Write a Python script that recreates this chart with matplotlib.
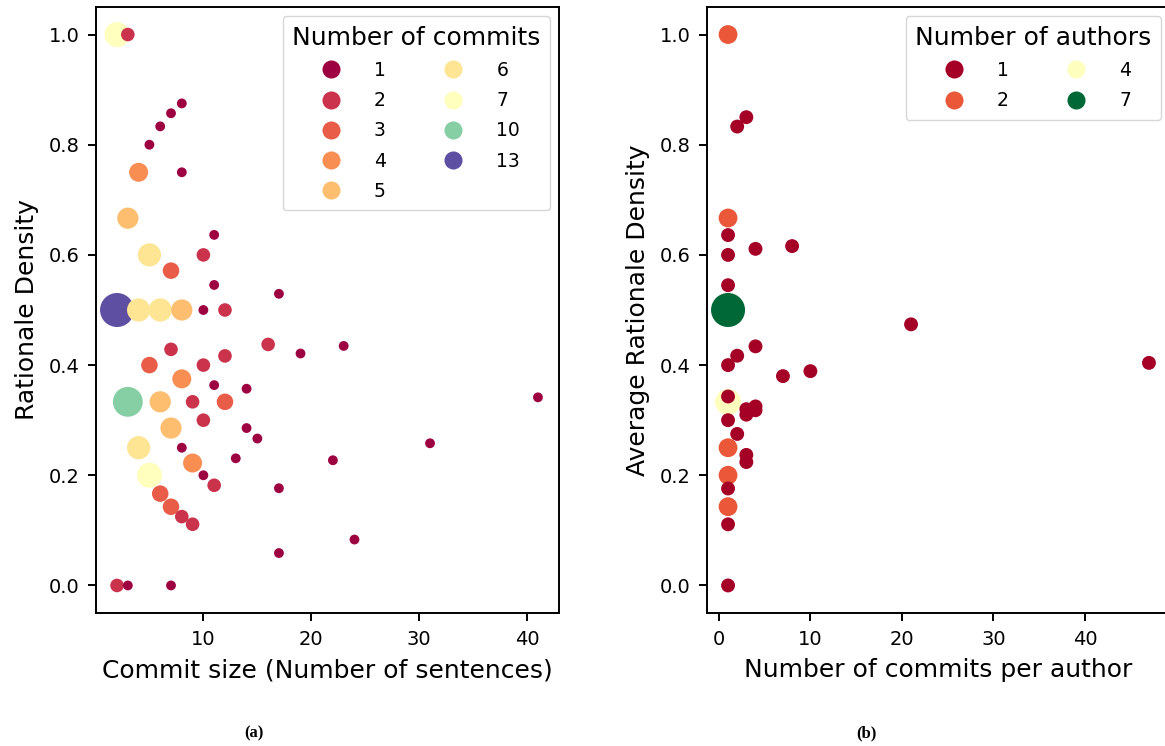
import matplotlib.pyplot as plt
from matplotlib.lines import Line2D

# (a) commit size vs rationale density, colour/size = number of commits
sentences = [2, 3, 8, 7, 6, 5, 4, 8, 3, 11, 5, 10, 7, 11, 17, 2, 4, 6, 8, 10, 12,
             7, 16, 19, 23, 5, 10, 12, 8, 11, 14, 41, 3, 6, 9, 12, 10, 7, 14, 15,
             31, 4, 8, 13, 9, 22, 5, 10, 11, 17, 6, 7, 8, 9, 24, 17, 2, 3, 7]
density = [1.0, 1.0, 7/8, 6/7, 5/6, 4/5, 0.75, 0.75, 2/3, 7/11, 0.6, 0.6, 4/7,
           6/11, 9/17, 0.5, 0.5, 0.5, 0.5, 0.5, 0.5, 3/7, 7/16, 8/19, 10/23,
           0.4, 0.4, 5/12, 3/8, 4/11, 5/14, 14/41, 1/3, 1/3, 1/3, 1/3, 0.3,
           2/7, 2/7, 4/15, 8/31, 0.25, 0.25, 3/13, 2/9, 5/22, 0.2, 0.2, 2/11,
           3/17, 1/6, 1/7, 1/8, 1/9, 2/24, 1/17, 0.0, 0.0, 0.0]
n_commits = [7, 2, 1, 1, 1, 1, 4, 1, 5, 1, 6, 2, 3, 1, 1, 13, 6, 6, 5, 1, 2,
             2, 2, 1, 1, 3, 2, 2, 4, 1, 1, 1, 10, 5, 2, 3, 2, 5, 1, 1,
             1, 6, 1, 1, 4, 1, 7, 1, 2, 1, 3, 3, 2, 2, 1, 1, 2, 1, 1]
commit_levels = [1, 2, 3, 4, 5, 6, 7, 10, 13]

# (b) commits per author vs average rationale density, colour/size = number of authors
commits_per_author = [1, 3, 2, 1, 1, 1, 4, 8, 1, 1, 21, 4, 2, 1, 47, 10, 7, 1,
                      1, 3, 4, 3, 4, 1, 2, 1, 3, 3, 1, 1, 1, 1, 1]
avg_density = [1.0, 0.85, 0.833, 0.667, 0.636, 0.6, 0.611, 0.616, 0.545, 0.5,
               0.474, 0.434, 0.417, 0.4, 0.404, 0.389, 0.38, 0.333, 0.343,
               0.32, 0.325, 0.31, 0.318, 0.3, 0.275, 0.25, 0.237, 0.224, 0.2,
               0.176, 0.143, 0.111, 0.0]
n_authors = [2, 1, 1, 2, 1, 1, 1, 1, 1, 7, 1, 1, 1, 1, 1, 1, 1, 4, 1, 1, 1, 1,
             1, 1, 1, 2, 1, 1, 2, 1, 2, 1, 1]
author_levels = [1, 2, 4, 7]


def scale(v, vals, lo, hi):
    return lo + (v - min(vals)) / (max(vals) - min(vals)) * (hi - lo)


fig = plt.figure(figsize=(11.65, 7.46), dpi=100)
W, H = 1165, 746
ax1 = fig.add_axes([96 / W, (746 - 613) / H, 463 / W, 606 / H])
ax2 = fig.add_axes([707 / W, (746 - 613) / H, 463 / W, 606 / H])

leg_kw = dict(ncol=2, loc='upper right', fontsize=13.5, title_fontsize=18,
              handletextpad=1.3, columnspacing=2.6, labelspacing=0.6,
              borderpad=0.5)

cmap1 = plt.get_cmap('Spectral')
c1 = [cmap1(scale(n, commit_levels, 0, 1)) for n in n_commits]
s1 = [scale(n, commit_levels, 50, 600) for n in n_commits]
ax1.scatter(sentences, density, c=c1, s=s1, linewidths=0)
ax1.set_xlabel('Commit size (Number of sentences)', fontsize=18, labelpad=7)
ax1.set_ylabel('Rationale Density', fontsize=18, labelpad=7)
ax1.set_xticks([10, 20, 30, 40])
h1 = [Line2D([], [], marker='o', ls='', markersize=13, markeredgewidth=0,
             color=cmap1(scale(n, commit_levels, 0, 1))) for n in commit_levels]
ax1.legend(h1, [str(n) for n in commit_levels], title='Number of commits', **leg_kw)

cmap2 = plt.get_cmap('RdYlGn')
c2 = [cmap2(scale(n, author_levels, 0, 1)) for n in n_authors]
s2 = [scale(n, author_levels, 100, 600) for n in n_authors]
ax2.scatter(commits_per_author, avg_density, c=c2, s=s2, linewidths=0)
ax2.set_xlabel('Number of commits per author', fontsize=18, labelpad=7)
ax2.set_ylabel('Average Rationale Density', fontsize=18, labelpad=7)
h2 = [Line2D([], [], marker='o', ls='', markersize=13, markeredgewidth=0,
             color=cmap2(scale(n, author_levels, 0, 1))) for n in author_levels]
ax2.legend(h2, [str(n) for n in author_levels], title='Number of authors', **leg_kw)

for ax in (ax1, ax2):
    ax.set_ylim(-0.05, 1.05)
    ax.set_yticks([0.0, 0.2, 0.4, 0.6, 0.8, 1.0])
    ax.tick_params(labelsize=14, width=1.4, length=6, pad=6)
    for sp in ax.spines.values():
        sp.set_linewidth(1.4)

fig.text(254 / W, 1 - 733 / H, '(a)', family='Liberation Serif', weight='bold',
         fontsize=12, ha='center', va='center')
fig.text(866 / W, 1 - 733 / H, '(b)', family='Liberation Serif', weight='bold',
         fontsize=12, ha='center', va='center')

fig.savefig('out.png', dpi=100)
